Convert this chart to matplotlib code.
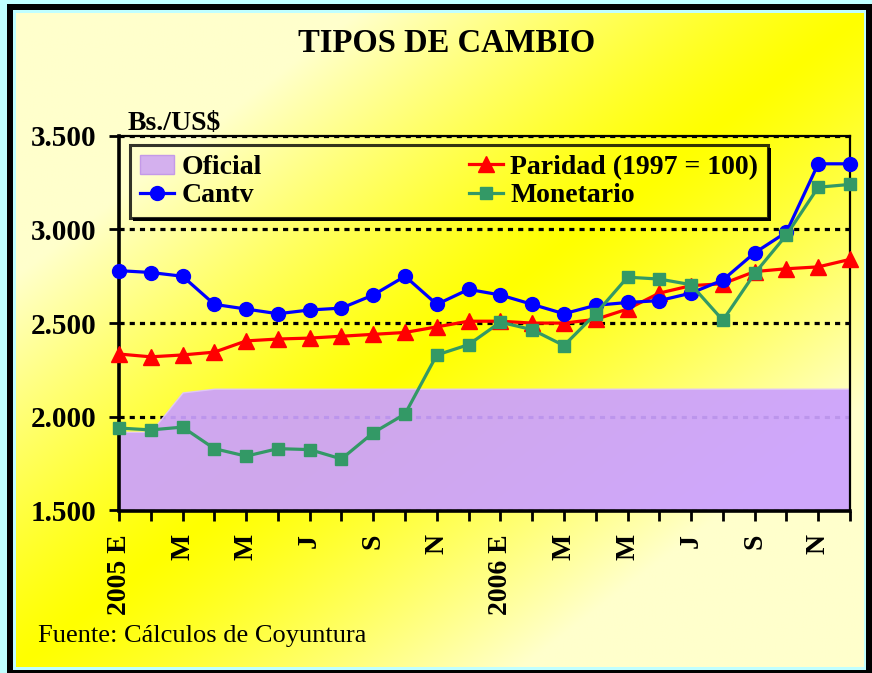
import numpy as np
import matplotlib
matplotlib.use("Agg")
import matplotlib.pyplot as plt
from matplotlib.patches import Rectangle, Patch
from matplotlib.lines import Line2D
from matplotlib import ticker

MONTHS = list(range(24))
MONTH_LABELS = ["2005 E", "", "M", "", "M", "", "J", "", "S", "", "N", "",
                "2006 E", "", "M", "", "M", "", "J", "", "S", "", "N", ""]

OFICIAL = [1920, 1920, 2130, 2150, 2150, 2150, 2150, 2150, 2150, 2150, 2150, 2150,
           2150, 2150, 2150, 2150, 2150, 2150, 2150, 2150, 2150, 2150, 2150, 2150]
PARIDAD = [2335, 2320, 2330, 2345, 2405, 2415, 2420, 2430, 2440, 2450, 2480, 2510,
           2510, 2500, 2500, 2520, 2575, 2660, 2700, 2710, 2775, 2790, 2800, 2840]
CANTV = [2780, 2770, 2750, 2600, 2575, 2550, 2570, 2580, 2650, 2750, 2600, 2680,
         2650, 2600, 2550, 2595, 2610, 2620, 2660, 2730, 2875, 2985, 3350, 3350]
MONETARIO = [1940, 1930, 1945, 1830, 1790, 1830, 1825, 1775, 1915, 2015, 2330, 2385,
             2505, 2465, 2380, 2550, 2745, 2735, 2705, 2515, 2765, 2970, 3225, 3240]

W, H = 872, 673

plt.rcParams["font.family"] = ["Liberation Serif", "DejaVu Serif"]
plt.rcParams["font.weight"] = "bold"

fig = plt.figure(figsize=(W / 100, H / 100), dpi=100, facecolor="#c0ffff")

# background: black frame and yellow gradient
bg = fig.add_axes([0, 0, 1, 1], zorder=-10)
bg.axis("off")
bg.add_patch(Rectangle((7, 4), W - 7, H - 4, facecolor="black", edgecolor="none", zorder=1))
bg.add_patch(Rectangle((13, 10), 853, 660, facecolor="#c0ffff", edgecolor="none", zorder=2))
gx, gy = np.meshgrid(np.linspace(0, 1, 300), np.linspace(0, 1, 240))
d = np.clip(np.abs(gx + gy - 1) / 0.6, 0, 1)
grad = np.ones((240, 300, 3))
grad[..., 2] = (d ** 1.2) * 0.80
bg.imshow(grad, extent=(16, 863, 667, 13), aspect="auto", interpolation="bilinear",
          zorder=3)
bg.set_xlim(0, W)
bg.set_ylim(H, 0)

ax = fig.add_axes([119 / W, 1 - 510.5 / H, 731 / W, 374.8 / H])
ax.set_facecolor("none")

ax.fill_between(MONTHS, 1500, OFICIAL, facecolor="#cca1ff", edgecolor="#e0c8f8",
                alpha=0.93, linewidth=1, zorder=1)
ax.plot(MONTHS, PARIDAD, color="#ff0000", lw=2.3, marker="^", ms=11,
        mec="#ff0000", clip_on=False, zorder=3)
ax.plot(MONTHS, CANTV, color="#0000ff", lw=2.3, marker="o", ms=10,
        mec="#0000ff", clip_on=False, zorder=4)
ax.plot(MONTHS, MONETARIO, color="#339966", lw=2.3, marker="s", ms=8,
        mec="#339966", clip_on=False, zorder=5)

ax.set_xlim(0, 23)
ax.set_ylim(1500, 3500)
ax.set_yticks([1500, 2000, 2500, 3000, 3500])
ax.yaxis.set_major_formatter(
    ticker.FuncFormatter(lambda v, p: f"{v:,.0f}".replace(",", ".")))
ax.set_xticks(MONTHS)
ax.set_xticklabels(MONTH_LABELS, rotation=90, va="top", ha="center")

ax.set_axisbelow(True)
ax.yaxis.grid(True, color="black", linestyle=(0, (1.6, 1.6)), linewidth=2.3)
for gl in ax.yaxis.get_gridlines():
    gl.set_zorder(0.5)

ax.tick_params(axis="y", direction="out", length=7, width=2, labelsize=21, pad=9)
ax.tick_params(axis="x", direction="out", length=7, width=2, labelsize=20, pad=10)
for lbl in ax.get_xticklabels() + ax.get_yticklabels():
    lbl.set_fontweight("bold")

ax.spines["left"].set_linewidth(2.6)
ax.spines["bottom"].set_linewidth(2.6)
ax.spines["right"].set_linewidth(1.6)
ax.spines["top"].set_linewidth(1.6)

handles = [
    Patch(facecolor="#d4b0ee", edgecolor="#c49ae8", label="Oficial"),
    Line2D([], [], color="#0000ff", lw=2.3, marker="o", ms=10, label="Cantv"),
    Line2D([], [], color="#ff0000", lw=2.3, marker="^", ms=11, label="Paridad (1997 = 100)"),
    Line2D([], [], color="#339966", lw=2.3, marker="s", ms=8, label="Monetario"),
]
leg = ax.legend(handles=handles, ncol=2, loc="upper left", mode="expand",
                bbox_to_anchor=(0.015, 0.6, 0.873, 0.3752),
                prop={"size": 20, "weight": "bold"}, frameon=True, fancybox=False,
                handlelength=1.25, handletextpad=0.25, labelspacing=0.1,
                borderpad=0.35, borderaxespad=0.0)
frame = leg.get_frame()
frame.set_facecolor("none")
frame.set_edgecolor("black")
frame.set_linewidth(2.2)

fig.text(447 / W, 1 - 44 / H, "TIPOS DE CAMBIO", ha="center", va="center",
         fontsize=23.5, fontweight="bold")
fig.text(128 / W, 1 - 123 / H, "Bs./US$", ha="left", va="center",
         fontsize=20, fontweight="bold")
fig.text(38 / W, 1 - 636 / H, "Fuente: Cálculos de Coyuntura", ha="left",
         va="center", fontsize=19, fontweight="normal")

# legend drop shadow
fig.canvas.draw()
bb = leg.get_window_extent()
s = 3
fig.patches.append(Rectangle((bb.x1 / W, (bb.y0 - s) / H), s / W, bb.height / H,
                             transform=fig.transFigure, facecolor="black",
                             edgecolor="none", zorder=10))
fig.patches.append(Rectangle(((bb.x0 + s) / W, (bb.y0 - s) / H), bb.width / W, s / H,
                             transform=fig.transFigure, facecolor="black",
                             edgecolor="none", zorder=10))

fig.savefig("out.png", dpi=100, facecolor=fig.get_facecolor())
